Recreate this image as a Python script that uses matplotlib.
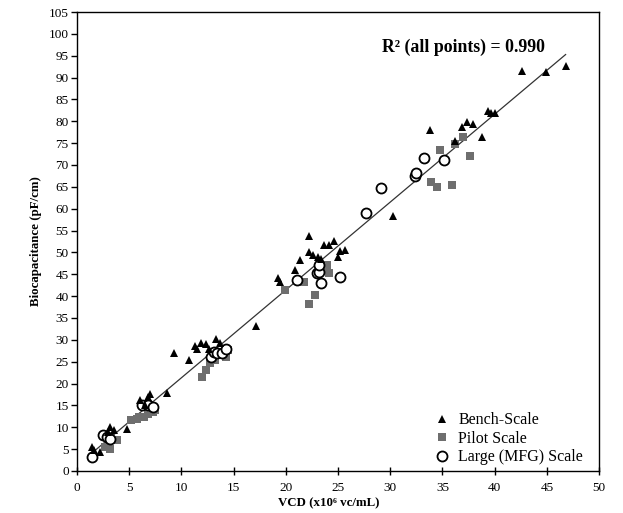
import numpy as np
import matplotlib
matplotlib.use("Agg")
import matplotlib.pyplot as plt

plt.rcParams["font.family"] = ["Liberation Serif", "DejaVu Serif"]

# ---- 数据 ----
bench_x = [1.4, 1.6, 2.2, 3.2, 3.5, 3.0, 4.8, 6.0, 6.5, 6.8, 7.0,
           8.6, 9.3, 10.7, 11.3, 11.5, 11.9, 12.4, 12.6, 13.3, 13.7, 17.1,
           19.3, 19.4, 20.9, 21.4, 22.2, 22.2, 22.6, 23.1, 23.4, 23.7, 24.1,
           24.6, 25.0, 25.2, 25.7, 30.3, 33.8, 36.2, 36.9, 37.4, 37.9, 38.8,
           39.4, 39.7, 40.0, 42.6, 44.9, 46.8]
bench_y = [5.5, 4.7, 4.3, 10.1, 9.3, 8.8, 9.5, 16.2, 15.0, 17.0, 17.7,
           17.9, 26.9, 25.4, 28.6, 28.0, 29.2, 29.0, 28.0, 30.1, 29.2, 33.1,
           44.1, 43.3, 46.0, 48.3, 53.8, 50.2, 49.4, 49.0, 48.4, 51.7, 51.7,
           52.5, 48.9, 50.4, 50.5, 58.3, 77.9, 75.5, 78.6, 79.9, 79.4, 76.3,
           82.4, 81.9, 82.0, 91.4, 91.2, 92.7]

pilot_x = [2.7, 3.0, 3.2, 3.8, 5.2, 5.7, 5.9, 6.4, 6.8, 7.3, 7.5,
           12.0, 12.4, 12.7, 13.2, 14.3, 14.5,
           19.9, 21.7, 22.2, 22.8, 23.8, 23.9, 24.1,
           33.9, 34.5, 35.9, 34.8, 36.2, 37.0, 37.6]
pilot_y = [5.5, 5.9, 5.1, 7.0, 11.6, 11.8, 12.4, 12.4, 13.1, 13.5, 13.9,
           21.5, 23.1, 24.6, 25.4, 26.1, 27.6,
           41.4, 43.3, 38.3, 40.2, 46.4, 47.1, 45.2,
           66.2, 65.0, 65.4, 73.5, 74.8, 76.4, 72.1]

large_x = [1.4, 2.5, 2.9, 3.2, 6.2, 6.8, 7.3,
           12.8, 13.1, 13.4, 13.9, 14.3,
           21.1, 23.0, 23.2, 23.2, 23.4, 25.2,
           27.7, 29.1, 32.4, 32.5, 33.2, 35.2]
large_y = [3.2, 8.2, 7.8, 7.4, 15.0, 15.0, 14.7,
           26.1, 27.3, 26.9, 26.9, 27.8,
           43.7, 45.2, 45.6, 47.1, 43.1, 44.3,
           59.0, 64.7, 67.5, 68.1, 71.6, 71.2]

x_ticks = list(range(0, 51, 5))
y_ticks = list(range(0, 106, 5))

# ---- 绘图 ----
fig = plt.figure(figsize=(6.23, 5.13), dpi=100)
ax = fig.add_axes([0.1236, 0.082, 0.8379, 0.8946])

# 线性拟合（全部点）
all_x = np.array(bench_x + pilot_x + large_x)
all_y = np.array(bench_y + pilot_y + large_y)
k, b = np.polyfit(all_x, all_y, 1)
xx = np.array([1.4, 46.8])
ax.plot(xx, k * xx + b, color="#333333", linewidth=0.9, zorder=1)

ax.plot(pilot_x, pilot_y, "s", color="#6e6e6e", markersize=6.2,
        markeredgewidth=0, label="Pilot Scale", zorder=2)
ax.plot(large_x, large_y, "o", markerfacecolor="white", markeredgecolor="black",
        markersize=7.2, markeredgewidth=1.3, label="Large (MFG) Scale", zorder=3)
ax.plot(bench_x, bench_y, "^", color="black", markersize=5.8,
        markeredgewidth=0, label="Bench-Scale", zorder=4)

ax.set_xlim(0, 50)
ax.set_ylim(0, 105)
ax.set_xticks(x_ticks)
ax.set_yticks(y_ticks)
ax.tick_params(axis="y", direction="out", length=4, width=1, labelsize=9.5, pad=2)
ax.tick_params(axis="x", direction="inout", length=6, width=1, labelsize=9.5, pad=5)
for s in ax.spines.values():
    s.set_linewidth(1.0)

ax.set_xlabel("VCD (x10\u2076 vc/mL)", fontsize=9.3, fontweight="bold", labelpad=3)
ax.xaxis.set_label_coords(0.483, -0.058)
ax.set_ylabel("Biocapacitance (pF/cm)", fontsize=9.3, fontweight="bold", labelpad=5)

ax.text(29.2, 97, "R\u00b2 (all points) = 0.990", fontsize=12.8, fontweight="bold",
        va="center", ha="left")

h, l = ax.get_legend_handles_labels()
order = [2, 0, 1]
ax.legend([h[i] for i in order], [l[i] for i in order], loc="lower right",
          bbox_to_anchor=(0.985, -0.005), frameon=False, fontsize=11.5,
          handlelength=1.0, handletextpad=0.5, labelspacing=0.15, borderaxespad=0.1)

fig.savefig("out.png", dpi=100)
